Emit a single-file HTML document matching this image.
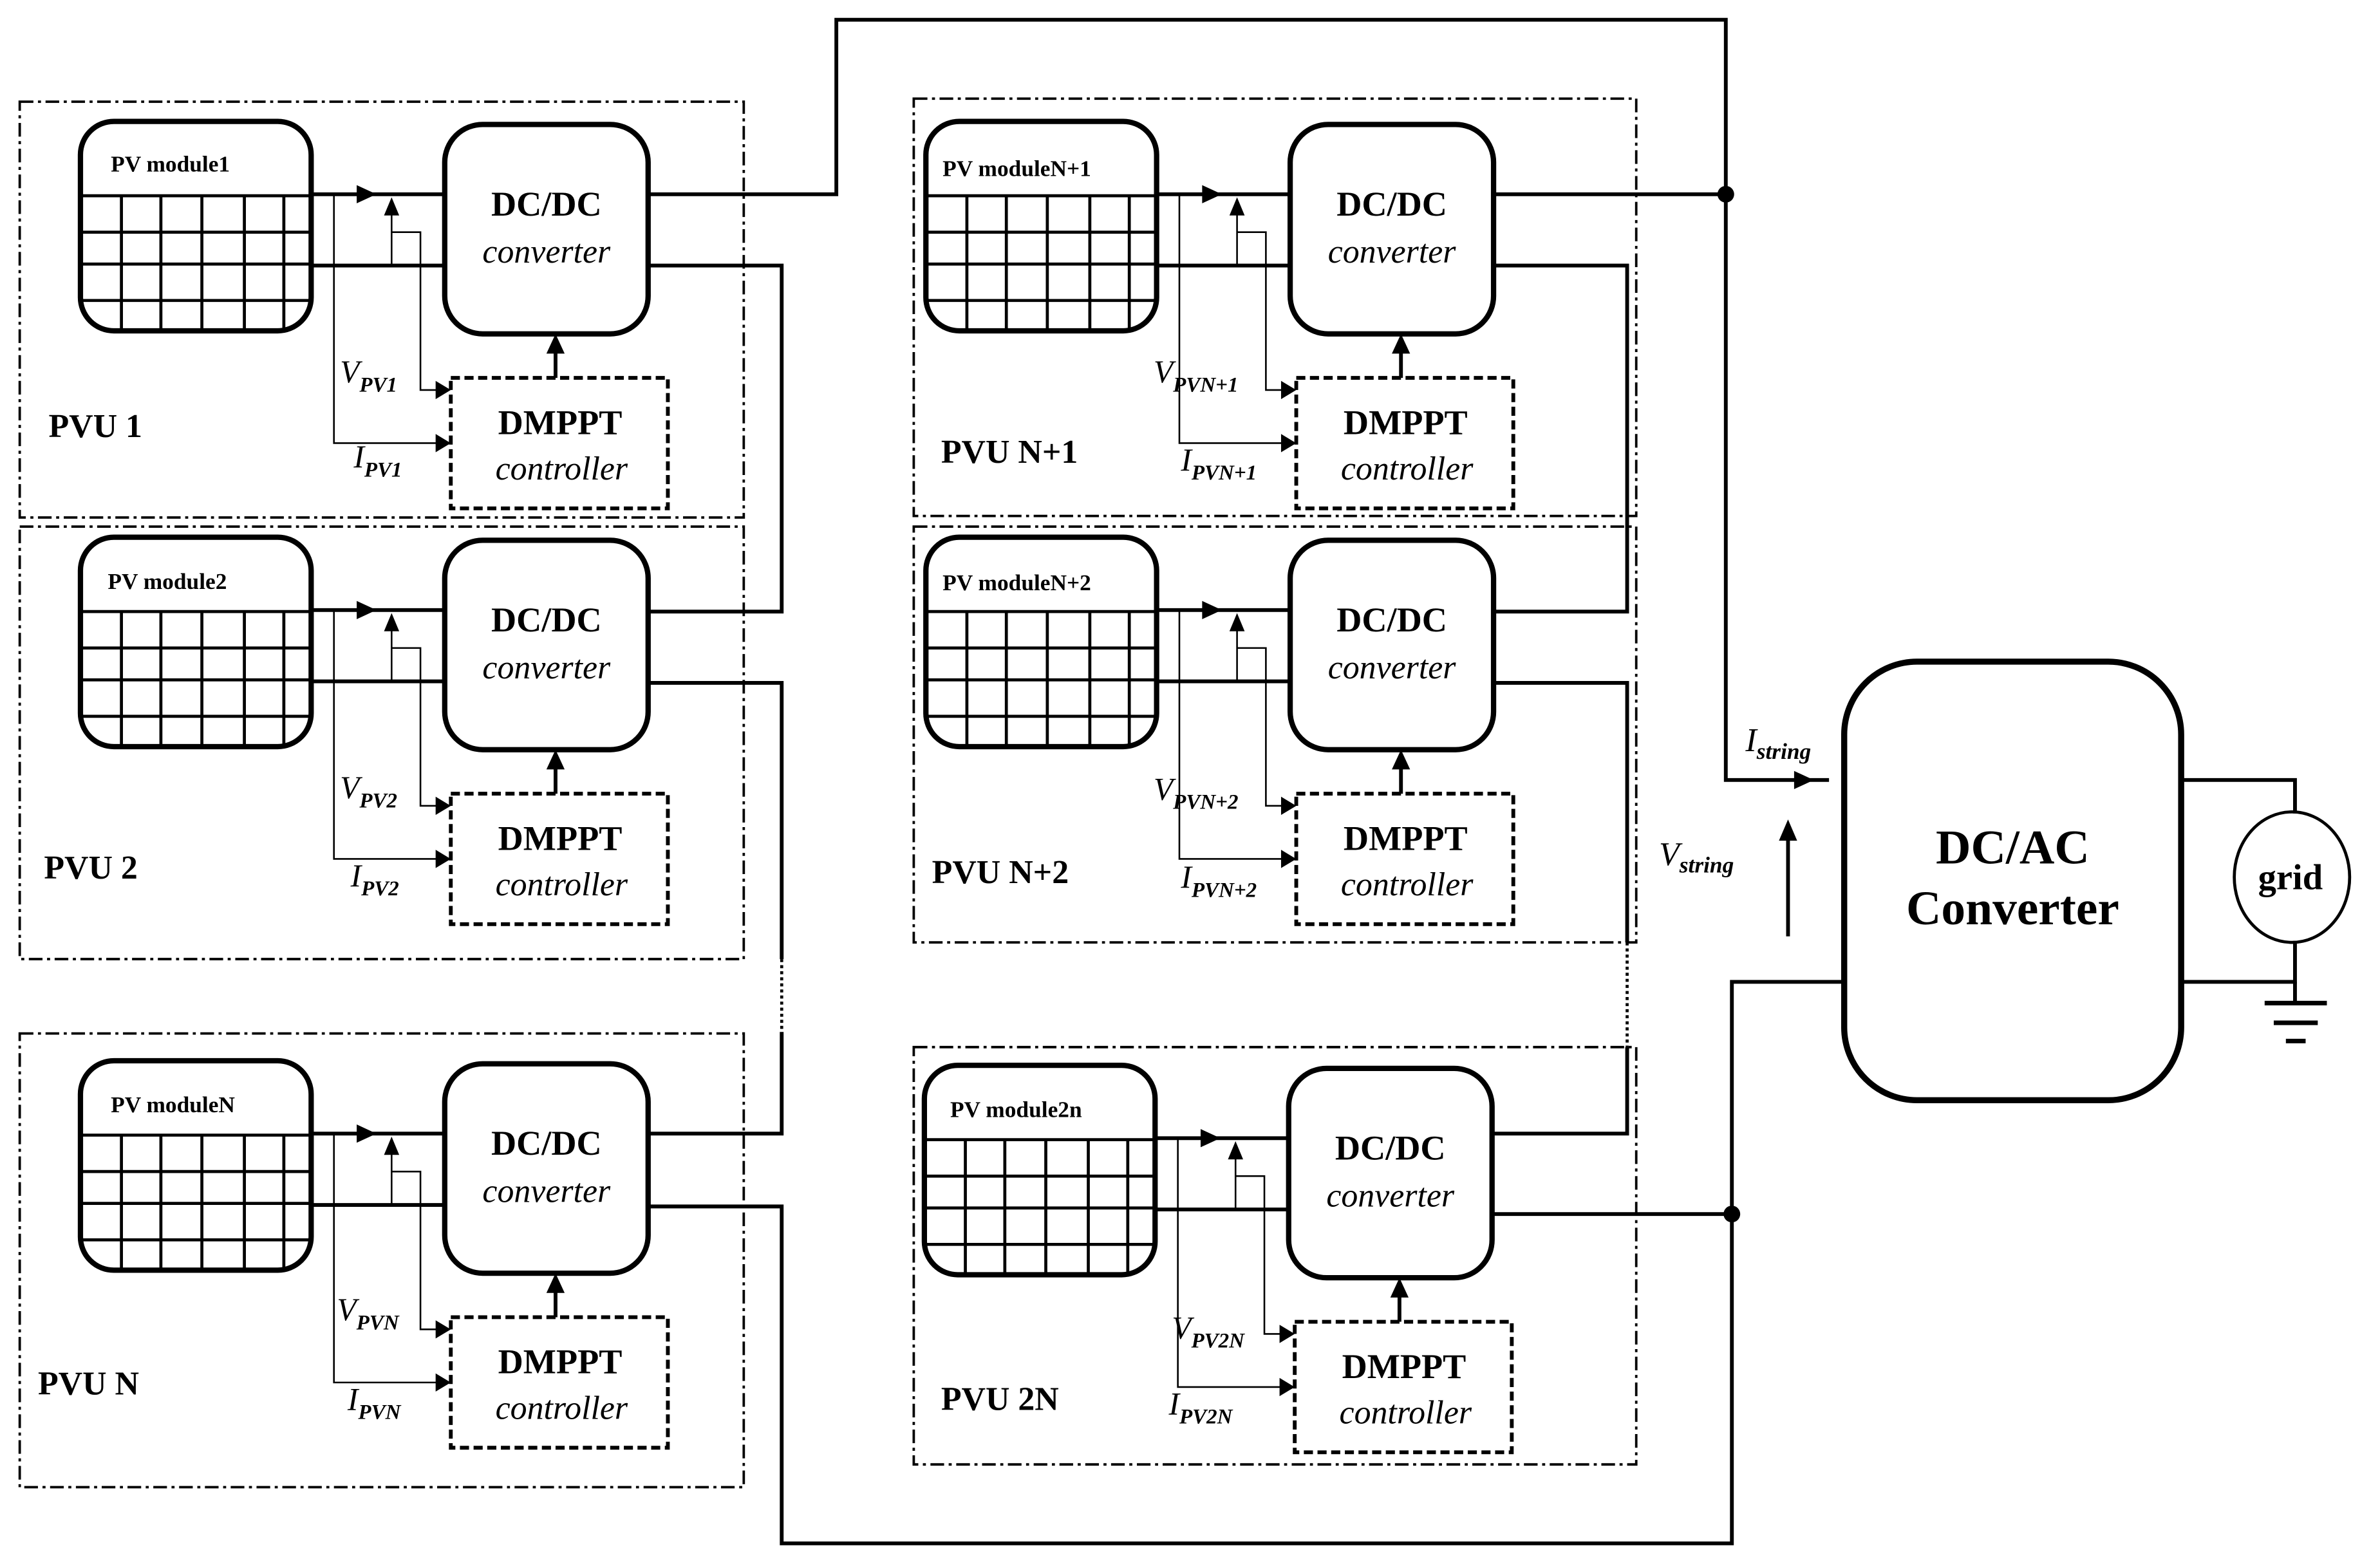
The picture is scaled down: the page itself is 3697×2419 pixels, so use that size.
<!DOCTYPE html>
<html><head><meta charset="utf-8"><style>
html,body{margin:0;padding:0;background:#fff;}
svg{display:block;}
text{font-family:"Liberation Serif",serif;fill:#000;}
.b{font-weight:bold;}
.i{font-style:italic;}
</style></head><body>
<svg width="3697" height="2419" viewBox="0 0 1568 1026" preserveAspectRatio="none" xmlns="http://www.w3.org/2000/svg">
<defs>
<clipPath id="mc"><rect x="53" y="80" width="152" height="138" rx="22"/></clipPath>
<g id="blk">
  <g clip-path="url(#mc)" stroke="#000" stroke-width="2" fill="none">
    <line x1="53" y1="129" x2="205" y2="129"/>
    <line x1="53" y1="153" x2="205" y2="153"/>
    <line x1="53" y1="174" x2="205" y2="174"/>
    <line x1="53" y1="198" x2="205" y2="198"/>
    <line x1="80" y1="129" x2="80" y2="220"/>
    <line x1="106" y1="129" x2="106" y2="220"/>
    <line x1="133" y1="129" x2="133" y2="220"/>
    <line x1="161" y1="129" x2="161" y2="220"/>
    <line x1="187" y1="129" x2="187" y2="220"/>
  </g>
  <rect x="53" y="80" width="152" height="138" rx="22" fill="none" stroke="#000" stroke-width="3.5"/>
  <g stroke="#000" stroke-width="2.5" fill="none">
    <line x1="205" y1="128" x2="292" y2="128"/>
    <line x1="205" y1="175" x2="292" y2="175"/>
  </g>
  <polygon points="235,122 248,128 235,134" fill="#000"/>
  <g stroke="#000" stroke-width="1.1" fill="none">
    <polyline points="220,128 220,292 290,292"/>
    <line x1="258" y1="175" x2="258" y2="140"/>
    <polyline points="258,153 277,153 277,257 290,257"/>
  </g>
  <polygon points="287,286 297,292 287,298" fill="#000"/>
  <polygon points="287,251 297,257 287,263" fill="#000"/>
  <polygon points="253,142 258,130 263,142" fill="#000"/>
  <rect x="293" y="82" width="134" height="138" rx="25" fill="none" stroke="#000" stroke-width="3.5"/>
  <rect x="297" y="249" width="143" height="86" fill="none" stroke="#000" stroke-width="2.5" stroke-dasharray="6 3"/>
  <line x1="366" y1="249" x2="366" y2="230" stroke="#000" stroke-width="2.5"/>
  <polygon points="360,233 366,220 372,233" fill="#000"/>
  <text x="360" y="142" font-size="23" class="b" text-anchor="middle">DC/DC</text>
  <text x="360" y="173" font-size="22" class="i" text-anchor="middle">converter</text>
  <text x="369" y="286" font-size="23" class="b" text-anchor="middle">DMPPT</text>
  <text x="370" y="316" font-size="22" class="i" text-anchor="middle">controller</text>
</g>
</defs>

<!-- dash-dot boxes -->
<g fill="none" stroke="#000" stroke-width="1.6" stroke-dasharray="9 3 2 3">
  <rect x="13" y="67" width="477" height="274"/>
  <rect x="13" y="347" width="477" height="285"/>
  <rect x="13" y="681" width="477" height="299"/>
  <rect x="602" y="65" width="476" height="275"/>
  <rect x="602" y="347" width="476" height="274"/>
  <rect x="602" y="690" width="476" height="275"/>
</g>

<use href="#blk"/>
<use href="#blk" transform="translate(0,274)"/>
<use href="#blk" transform="translate(0,619)"/>
<use href="#blk" transform="translate(557,0)"/>
<use href="#blk" transform="translate(557,274)"/>
<use href="#blk" transform="translate(556,622)"/>

<!-- module labels -->
<g font-size="15" class="b">
<text x="73" y="113" class="b">PV module1</text>
<text x="71" y="388" class="b">PV module2</text>
<text x="73" y="733" class="b">PV moduleN</text>
<text x="621" y="116" class="b">PV moduleN+1</text>
<text x="621" y="389" class="b">PV moduleN+2</text>
<text x="626" y="736" class="b">PV module2n</text>
</g>
<g font-size="22" class="b">
<text x="32" y="288" class="b">PVU 1</text>
<text x="29" y="579" class="b">PVU 2</text>
<text x="25" y="919" class="b">PVU N</text>
<text x="620" y="305" class="b">PVU N+1</text>
<text x="614" y="582" class="b">PVU N+2</text>
<text x="620" y="929" class="b">PVU 2N</text>
</g>
<!-- V/I labels -->
<g font-size="21" class="i">
<text x="224" y="252" class="i">V<tspan font-size="14" class="b" dy="6">PV1</tspan></text>
<text x="233" y="308" class="i">I<tspan font-size="14" class="b" dy="6">PV1</tspan></text>
<text x="224" y="526" class="i">V<tspan font-size="14" class="b" dy="6">PV2</tspan></text>
<text x="231" y="584" class="i">I<tspan font-size="14" class="b" dy="6">PV2</tspan></text>
<text x="222" y="870" class="i">V<tspan font-size="14" class="b" dy="6">PVN</tspan></text>
<text x="229" y="929" class="i">I<tspan font-size="14" class="b" dy="6">PVN</tspan></text>
<text x="760" y="252" class="i">V<tspan font-size="14" class="b" dy="6">PVN+1</tspan></text>
<text x="778" y="310" class="i">I<tspan font-size="14" class="b" dy="6">PVN+1</tspan></text>
<text x="760" y="527" class="i">V<tspan font-size="14" class="b" dy="6">PVN+2</tspan></text>
<text x="778" y="585" class="i">I<tspan font-size="14" class="b" dy="6">PVN+2</tspan></text>
<text x="772" y="882" class="i">V<tspan font-size="14" class="b" dy="6">PV2N</tspan></text>
<text x="770" y="932" class="i">I<tspan font-size="14" class="b" dy="6">PV2N</tspan></text>
</g>

<!-- interconnect wiring -->
<g fill="none" stroke="#000" stroke-width="2.5">
  <polyline points="427,128 551,128 551,13 1137,13 1137,514 1205,514"/>
  <line x1="984" y1="128" x2="1137" y2="128"/>
  <polyline points="427,175 515,175 515,403 427,403"/>
  <polyline points="427,450 515,450 515,632"/>
  <polyline points="515,680 515,747 427,747"/>
  <polyline points="427,795 515,795 515,1017 1141,1017 1141,647 1215,647"/>
  <polyline points="984,175 1072,175 1072,403 984,403"/>
  <polyline points="984,450 1072,450 1072,621"/>
  <polyline points="1072,690 1072,747 984,747"/>
  <line x1="984" y1="800" x2="1141" y2="800"/>
  <polyline points="1437,514 1512,514 1512,536"/>
  <polyline points="1437,647 1512,647 1512,620"/>
  <line x1="1512" y1="647" x2="1512" y2="660"/>
  <line x1="1178" y1="617" x2="1178" y2="552"/>
</g>
<g stroke="#000" stroke-width="2" stroke-dasharray="2 2">
  <line x1="515" y1="632" x2="515" y2="680"/>
  <line x1="1072" y1="621" x2="1072" y2="690"/>
</g>
<polygon points="1182,508 1195,514 1182,520" fill="#000"/>
<polygon points="1172,554 1178,540 1184,554" fill="#000"/>
<circle cx="1137" cy="128" r="5.5" fill="#000"/>
<circle cx="1141" cy="800" r="5.5" fill="#000"/>

<!-- DC/AC -->
<rect x="1215" y="436" width="222" height="289" rx="48" fill="none" stroke="#000" stroke-width="4"/>
<text x="1326" y="569" font-size="32" class="b" text-anchor="middle">DC/AC</text>
<text x="1326" y="609" font-size="32" class="b" text-anchor="middle">Converter</text>
<text x="1150" y="495" font-size="22" class="i">I<tspan font-size="15" class="b i" dy="5">string</tspan></text>
<text x="1093" y="570" font-size="22" class="i">V<tspan font-size="15" class="b i" dy="5">string</tspan></text>

<!-- grid -->
<ellipse cx="1510" cy="578" rx="38" ry="43" fill="none" stroke="#000" stroke-width="2"/>
<text x="1509" y="586" font-size="24" class="b" text-anchor="middle">grid</text>
<g stroke="#000" stroke-width="3">
  <line x1="1492" y1="661" x2="1533" y2="661"/>
  <line x1="1498" y1="674" x2="1527" y2="674"/>
  <line x1="1506" y1="686" x2="1519" y2="686"/>
</g>
</svg>
</body></html>
